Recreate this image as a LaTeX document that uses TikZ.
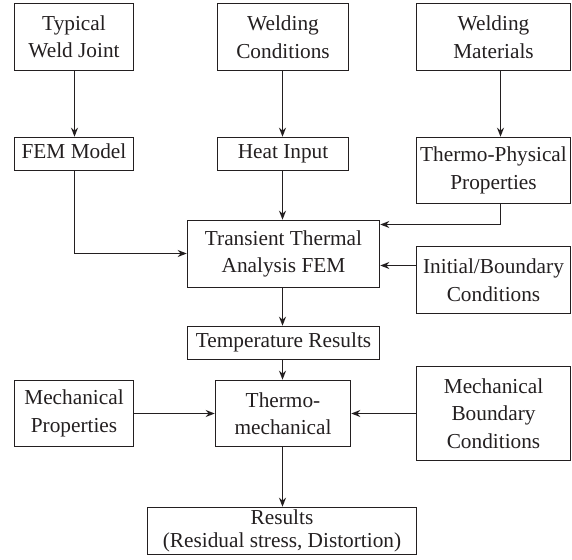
\documentclass[tikz,border=0pt]{standalone}
\usepackage{fontspec}
\setmainfont{Liberation Serif}
\usetikzlibrary{arrows.meta}
\definecolor{ink}{HTML}{231F20}
\begin{document}
\begin{tikzpicture}[x=1pt,y=-1pt,
  box/.style={draw=ink,line width=1.6pt,inner sep=0pt,align=center,text=ink,
    font=\fontsize{21.3}{27.5}\selectfont},
  oneline/.style={text height=14.5pt,text depth=5pt},
  arr/.style={draw=ink,line width=1.6pt,-{Stealth[length=9pt,width=7pt]}}]
\useasboundingbox (0,0) rectangle (572,559);
% row 1
\node[box,minimum width=119,minimum height=67] (twj) at (74,37) {Typical\\Weld Joint};
\node[box,minimum width=131,minimum height=67] (wc) at (283,37) {Welding\\Conditions};
\node[box,minimum width=154,minimum height=67] (wm) at (493.5,37) {Welding\\Materials};
% row 2
\node[box,oneline,minimum width=119,minimum height=33] (fem) at (74,154) {FEM Model};
\node[box,oneline,minimum width=131,minimum height=33] (hi) at (283,154) {Heat Input};
\node[box,minimum width=154,minimum height=66] (tpp) at (493.5,170.5) {Thermo-Physical\\Properties};
% middle
\node[box,minimum width=192,minimum height=67] (tta) at (283.5,254) {Transient Thermal\\Analysis FEM};
\node[box,minimum width=154,minimum height=67] (ibc) at (493.5,280) {Initial/Boundary\\Conditions};
\node[box,oneline,minimum width=192,minimum height=33] (tr) at (283.5,343) {Temperature Results};
% lower
\node[box,minimum width=119,minimum height=66] (mp) at (74,413.5) {Mechanical\\Properties};
\node[box,minimum width=135,minimum height=66] (tm) at (283,413.5) {Thermo-\\mechanical};
\node[box,minimum width=154,minimum height=94] (mbc) at (493.5,413.5) {Mechanical\\Boundary\\Conditions};
\node[box,font=\fontsize{21.3}{22.5}\selectfont,minimum width=269,minimum height=47] (res) at (282,531) {Results\\(Residual stress, Distortion)};
% connectors
\coordinate (c1) at (74.5,253.5);
\coordinate (c2) at (500.5,224.5);
\draw[arr] (twj.south -| 74.5,0) -- (fem.north -| 74.5,0);
\draw[arr] (fem.south -| c1) -- (c1) -- (tta.west |- c1);
\draw[arr] (wc.south -| 282.5,0) -- (hi.north -| 282.5,0);
\draw[arr] (hi.south -| 282.5,0) -- (tta.north -| 282.5,0);
\draw[arr] (wm.south -| c2) -- (tpp.north -| c2);
\draw[arr] (tpp.south -| c2) -- (c2) -- (c2 -| tta.east);
\draw[arr] (ibc.west |- 0,265.5) -- (tta.east |- 0,265.5);
\draw[arr] (tta.south -| 282.5,0) -- (tr.north -| 282.5,0);
\draw[arr] (tr.south -| 282.5,0) -- (tm.north -| 282.5,0);
\draw[arr] (mp.east |- 0,413.5) -- (tm.west |- 0,413.5);
\draw[arr] (mbc.west |- 0,413.5) -- (tm.east |- 0,413.5);
\draw[arr] (tm.south -| 282.5,0) -- (res.north -| 282.5,0);
\end{tikzpicture}
\end{document}
